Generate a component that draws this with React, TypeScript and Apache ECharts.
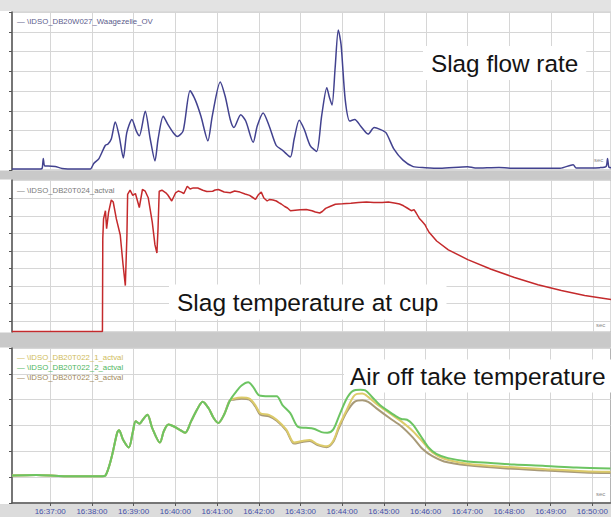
import React, { useEffect, useRef } from "react";
import * as echarts from "echarts";

// x values are seconds after 16:36:00
const X_MIN = 5;
const X_MAX = 866;
const xTickSeconds = [60, 120, 180, 240, 300, 360, 420, 480, 540, 600, 660, 720, 780, 840];

const flowTicks = [0, 10, 20, 30, 40, 50, 60, 70, 80];
const tempTicks = [110, 285, 460, 635, 810, 985, 1160, 1335];
const airTicks = [0, 50, 100, 150, 200, 250, 300];

const flowName = "— \\IDSO_DB20W027_Waagezelle_OV";
const tempName = "— \\IDSO_DB20T024_actval";
const airNames = ["— \\IDSO_DB20T022_1_actval", "— \\IDSO_DB20T022_2_actval", "— \\IDSO_DB20T022_3_actval"];

const slagFlow: [number, number][] = [
  [5, 0.5], [46, 0.5], [48.5, 1], [50, 5.8], [52, 2], [57, 2], [67, 1.8], [77, 0.8], [96, 0.5], [117.5, 0.5],
  [122.5, 3.3], [130, 5.8], [139, 12.4], [143, 13.2], [147.7, 15.7], [153.4, 24.3], [159, 17.3], [165, 6.1],
  [170, 18.9], [177.4, 25.6], [183.6, 19.8], [188, 17.3], [196.5, 29.7], [203.7, 15.7], [210.5, 4.6], [215, 15.7],
  [222.4, 27.2], [229, 23.1], [236.8, 18.9], [242.5, 17], [251, 19.8], [261, 40.1], [268.4, 35.5], [276.6, 27.2],
  [286.6, 14.8], [292.8, 27.2], [304.3, 44.6], [311.5, 37.2], [318.7, 25.6], [324, 21.5], [333.8, 28], [341, 24.8],
  [351.7, 14], [357.5, 22.3], [366, 28.9], [374.7, 22.3], [384.8, 12.4], [394, 9.9], [405, 6.6], [410.6, 15.7],
  [417.8, 25.2], [425, 20.6], [433.6, 12.4], [442.8, 9.4], [450, 27.2], [457.5, 41.7], [461, 37.1], [465, 32.9],
  [469.5, 51.9], [474, 70.9], [478, 63.5], [484, 35.5], [490.5, 24.8], [497.7, 25.6], [506, 22.3], [517, 18.2],
  [525.6, 21.5], [534, 20.6], [542.5, 18.9], [553.8, 10.7], [567, 5], [581.6, 1.7], [599, 1.2], [620, 0.9],
  [660, 1.7], [670.7, 1], [705, 1.3], [721, 0.9], [793, 0.9], [811.6, 2.7], [816, 1], [850, 1.2], [859, 1.8],
  [861, 5.8], [863, 1.4], [866, 1.2],
];

const slagTemp: [number, number][] = [
  [5, 5], [135, 5], [135.5, 936], [136.6, 1131], [139.3, 1213], [141, 1034], [143.8, 1197], [147.7, 1320],
  [150.5, 1300], [155, 1131], [160.6, 970], [164.6, 675], [167.9, 464], [170.2, 970], [171.2, 1376], [174.7, 1418],
  [178.6, 1366], [182.4, 1385], [188, 1245], [192.5, 1425], [196.5, 1408], [200.8, 1343], [206.6, 1099],
  [210.5, 871], [213.3, 790], [214.9, 1034], [216.6, 1408], [220.5, 1418], [226.1, 1392], [229, 1370],
  [234.6, 1310], [240.2, 1392], [244, 1410], [248.5, 1399], [252, 1385], [256.9, 1457], [261, 1430],
  [265.5, 1441], [272, 1440], [279.3, 1418], [285, 1405], [293.4, 1408], [297, 1420], [301.7, 1425], [310, 1400],
  [318.7, 1392], [325, 1410], [332.6, 1399], [340, 1380], [346.5, 1366], [350, 1350], [355, 1327], [359, 1372],
  [363.3, 1399], [367, 1340], [371.8, 1310], [375, 1325], [380.2, 1320], [385, 1310], [388.5, 1294], [392, 1280],
  [397, 1255], [401, 1240], [405.3, 1213], [412, 1218], [419.3, 1223], [428, 1225], [436.2, 1213], [441, 1200],
  [447.4, 1190], [451, 1205], [455.8, 1236], [462, 1255], [469.8, 1278], [480, 1282], [492.1, 1288], [503, 1295],
  [514.5, 1301], [525, 1296], [537.1, 1294], [546, 1300], [556.6, 1288], [562, 1280], [567.8, 1262], [573, 1240],
  [578.9, 1213], [582.9, 1223], [586, 1190], [590.3, 1138], [594, 1110], [598.6, 1073], [601, 1040], [604.2, 1001],
  [615.4, 910], [632.2, 822], [660.1, 724], [693.7, 627], [727.3, 545], [761, 473], [794.6, 415], [828.2, 366],
  [866, 324],
];

// shared rise of the three air off-take thermocouples
const airCommon: [number, number][] = [
  [5, 53], [40, 54], [80, 52], [120, 52], [135, 52], [139.3, 53], [147.7, 85.5], [156.3, 136], [159, 141],
  [164.6, 123], [173, 107.6], [178.6, 136], [183, 158], [188.6, 153.6], [192.5, 160], [199.8, 170.7],
  [206.6, 145.5], [217.8, 117], [223.4, 139], [230.1, 151.7], [237.3, 148.6], [245.8, 142], [254.1, 136],
  [262.6, 158], [270.9, 180], [279.3, 195.8], [287.8, 183.3], [295.1, 164.5], [301.7, 154.8], [310, 170.7],
  [318.7, 199],
];

const air2Tail: [number, number][] = [
  [327, 214.8], [335.3, 227.4], [344.8, 233.7], [352.1, 224.3], [360.6, 208.4], [374.6, 206.7], [385.8, 206.7],
  [394.1, 189.6], [405.3, 173.8], [416.5, 147.4], [427.9, 145.5], [438.9, 143.6], [450.1, 137.2], [458.6, 136],
  [467, 142], [475.3, 167.6], [486.5, 202.2], [495, 216.7], [506.2, 219.2], [513.4, 218], [523, 205.3],
  [534.2, 189.6], [545.4, 178.8], [556.6, 168.7], [565, 162.5], [573.3, 161.2], [581.8, 151.7], [593, 129.6],
  [604.2, 107.6], [615.4, 95], [632.2, 86.9], [660.1, 80.5], [693.7, 77.4], [727.3, 74.3], [772.2, 71.8],
  [817, 68.5], [866, 66.8],
];

const air1Tail: [number, number][] = [
  [324.1, 202], [335.3, 204], [346.5, 202], [355, 189.6], [362.2, 173.8], [374.6, 170.7], [385.8, 161.2],
  [399.7, 142], [410.9, 117], [422.1, 120], [433.3, 122], [444.5, 114], [457.5, 109.7], [467, 120], [475.3, 148.6],
  [486.5, 180], [497.7, 208.4], [508.9, 211.7], [517.4, 205.3], [531.3, 189.6], [548.1, 173.8], [565, 158],
  [581.8, 139], [598.6, 114], [609.8, 98], [626.6, 85.5], [660.1, 76], [716.1, 69.8], [772.2, 65.4],
  [828.2, 61.5], [866, 60.4],
];

const air3Tail: [number, number][] = [
  [324.1, 200], [335.3, 202], [346.5, 200], [355, 187], [362.2, 171], [374.6, 168], [385.8, 159], [399.7, 140],
  [410.9, 115], [422.1, 118], [433.3, 120], [444.5, 112], [457.5, 108], [467, 118], [475.3, 145], [486.5, 176],
  [497.7, 195.8], [508.9, 199], [517.4, 195.8], [531.3, 181.3], [548.1, 164.5], [565, 148.6], [581.8, 126.5],
  [595.7, 104.5], [609.8, 90.6], [626.6, 80.5], [660.1, 73], [716.1, 66.8], [772.2, 62.9], [828.2, 59.2],
  [866, 58],
];

const airColors = ["#dccb6a", "#6cc462", "#a89a78"];

const FONT = '"Liberation Sans", Arial, sans-serif';

function timeLabel(v: number): string {
  const m = 36 + Math.floor(v / 60);
  return "16:" + m + ":00";
}

const grids = [
  { top: 12, height: 158 },
  { top: 180, height: 152 },
  { top: 348, height: 155 },
];

export default function App() {
  const ref = useRef<HTMLDivElement>(null);
  useEffect(() => {
    if (!ref.current) return;
    const chart = echarts.init(ref.current, null, { renderer: "svg" });

    const gridOpts = grids.map((g) => ({
      left: 12,
      right: 0,
      top: g.top,
      height: g.height,
      show: true,
      backgroundColor: "#ffffff",
      borderColor: "#b4b4b4",
      borderWidth: 1,
    }));

    const xAxes = [0, 1, 2].map((i) => ({
      type: "value",
      gridIndex: i,
      min: X_MIN,
      max: X_MAX,
      axisLine: { show: i === 2, onZero: false, lineStyle: { color: "#555", width: 1.5 } },
      axisTick: {
        show: i === 2,
        customValues: xTickSeconds,
        length: 3,
        lineStyle: { color: "#555" },
      },
      axisLabel: {
        show: i === 2,
        customValues: xTickSeconds,
        formatter: timeLabel,
        fontSize: 8,
        fontFamily: FONT,
        color: "#4450a8",
        margin: 4,
      },
      splitLine: { show: true, lineStyle: { color: "#d6d6d6", width: 1 } },
    }));

    const yCommon = (i: number, min: number, max: number, ticks: number[]) => ({
      type: "value",
      gridIndex: i,
      min,
      max,
      axisLine: { show: true, lineStyle: { color: "#555", width: 1.5 } },
      axisTick: { show: true, customValues: ticks, length: 3, lineStyle: { color: "#555" } },
      axisLabel: { show: false, customValues: ticks },
      splitLine: { show: true, lineStyle: { color: "#d6d6d6", width: 1 } },
    });

    const yAxes = [
      yCommon(0, 0, 80, flowTicks),
      yCommon(1, 0, 1520, tempTicks),
      yCommon(2, 0, 300, airTicks),
    ];

    const lineSeries = (data: [number, number][], idx: number, color: string, smooth: number | boolean, width = 1.5) => ({
      type: "line",
      xAxisIndex: idx,
      yAxisIndex: idx,
      data,
      showSymbol: false,
      smooth,
      lineStyle: { color, width },
      itemStyle: { color },
      z: 3,
    });

    const textEl = (x: number, y: number, text: string, size: number, fill: string, z = 2, extra: any = {}) => ({
      type: "text",
      x,
      y,
      z,
      style: {
        text,
        fill,
        font: size + "px " + FONT,
        verticalAlign: "middle",
        ...extra,
      },
    });

    const box = { backgroundColor: "#fff", padding: [5, 8] };

    const graphic: any[] = [
      { type: "rect", shape: { x: 0, y: 0, width: 611, height: 11 }, style: { fill: "#e3e3e3" }, z: -5 },
      { type: "rect", shape: { x: 0, y: 170.5, width: 611, height: 9 }, style: { fill: "#c9c9c9" }, z: -5 },
      { type: "rect", shape: { x: 0, y: 332.5, width: 611, height: 15 }, style: { fill: "#c9c9c9" }, z: -5 },
      { type: "rect", shape: { x: 0, y: 504, width: 611, height: 13 }, style: { fill: "#dcdcdc" }, z: -5 },
      textEl(17, 21, flowName, 7.8, "#5c5c8c"),
      textEl(17, 190, tempName, 7.8, "#7a7a7a"),
      textEl(17, 357.5, airNames[0], 7.8, "#d0bc5c"),
      textEl(17, 367.5, airNames[1], 7.8, "#4fb65e"),
      textEl(17, 377, airNames[2], 7.8, "#a08858"),
      textEl(594, 160, "sec", 6, "#8a8a8a"),
      textEl(596, 325, "sec", 6, "#8a8a8a"),
      textEl(596, 494, "sec", 6, "#8a8a8a"),
      textEl(423, 63, "Slag flow rate", 24.3, "#141414", 2, box),
      textEl(169, 302, "Slag temperature at cup", 24.5, "#141414", 2, box),
      textEl(344, 376, "Air off take temperature", 24.5, "#141414", 2, { backgroundColor: "#fff", padding: [4, 6] }),
    ];

    chart.setOption({
      animation: false,
      backgroundColor: "#ffffff",
      grid: gridOpts,
      xAxis: xAxes,
      yAxis: yAxes,
      graphic,
      series: [
        lineSeries(slagFlow, 0, "#42428f", 0.25),
        lineSeries(slagTemp, 1, "#c42a2c", false),
        lineSeries([...airCommon, ...air3Tail], 2, airColors[2], 0.3, 2),
        lineSeries([...airCommon, ...air1Tail], 2, airColors[0], 0.3, 2),
        lineSeries([...airCommon, ...air2Tail], 2, airColors[1], 0.3, 2),
      ],
    });
    return () => chart.dispose();
  }, []);
  return (
    <div
      ref={ref}
      style={{ position: "absolute", left: 0, top: 0, width: 611, height: 517 }}
    />
  );
}
